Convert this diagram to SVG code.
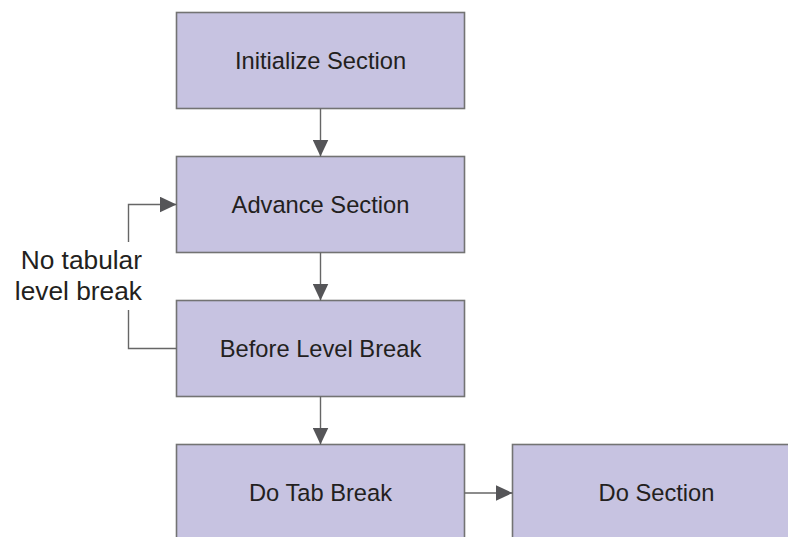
<svg xmlns="http://www.w3.org/2000/svg" width="788" height="537" viewBox="0 0 788 537">
  <defs>
    <marker id="arrow" markerWidth="17" markerHeight="16" refX="17" refY="8" orient="auto" markerUnits="userSpaceOnUse">
      <path d="M0,0 L17,8 L0,16 Z" fill="#555558"/>
    </marker>
  </defs>
  <style>
    .box { fill: #c7c3e1; stroke: #737373; stroke-width: 1.6; }
    .label { font-family: "Liberation Sans", Arial, sans-serif; font-size: 23.7px; fill: #231f20; text-anchor: middle; }
    .note { font-family: "Liberation Sans", Arial, sans-serif; font-size: 26.3px; fill: #231f20; text-anchor: end; }
    .conn { fill: none; stroke: #666666; stroke-width: 1.4; }
  </style>
  <rect width="788" height="537" fill="#ffffff"/>

  <g id="initialize-section">
    <rect class="box" x="176.5" y="12.5" width="288" height="96"/>
    <text class="label" x="320.5" y="68.5">Initialize Section</text>
  </g>

  <g id="advance-section">
    <rect class="box" x="176.5" y="156.5" width="288" height="96"/>
    <text class="label" x="320.5" y="212.5">Advance Section</text>
  </g>

  <g id="before-level-break">
    <rect class="box" x="176.5" y="300.5" width="288" height="96"/>
    <text class="label" x="320.5" y="356.5">Before Level Break</text>
  </g>

  <g id="do-tab-break">
    <rect class="box" x="176.5" y="444.5" width="288" height="110"/>
    <text class="label" x="320.5" y="501">Do Tab Break</text>
  </g>

  <g id="do-section">
    <rect class="box" x="512.5" y="444.5" width="300" height="110"/>
    <text class="label" x="656.5" y="501">Do Section</text>
  </g>

  <g id="connectors">
    <line class="conn" x1="320.5" y1="108.5" x2="320.5" y2="156.5" marker-end="url(#arrow)"/>
    <line class="conn" x1="320.5" y1="252.5" x2="320.5" y2="300.5" marker-end="url(#arrow)"/>
    <line class="conn" x1="320.5" y1="396.5" x2="320.5" y2="444.5" marker-end="url(#arrow)"/>
    <line class="conn" x1="464.5" y1="493" x2="512.5" y2="493" marker-end="url(#arrow)"/>
    <!-- loop back from Before Level Break to Advance Section -->
    <path class="conn" d="M176.5,348.5 H128.5 V310"/>
    <path class="conn" d="M128.5,242 V204.5 H176.5" marker-end="url(#arrow)"/>
    <text class="note" x="142" y="269">No tabular</text>
    <text class="note" x="142" y="300">level break</text>
  </g>
</svg>
